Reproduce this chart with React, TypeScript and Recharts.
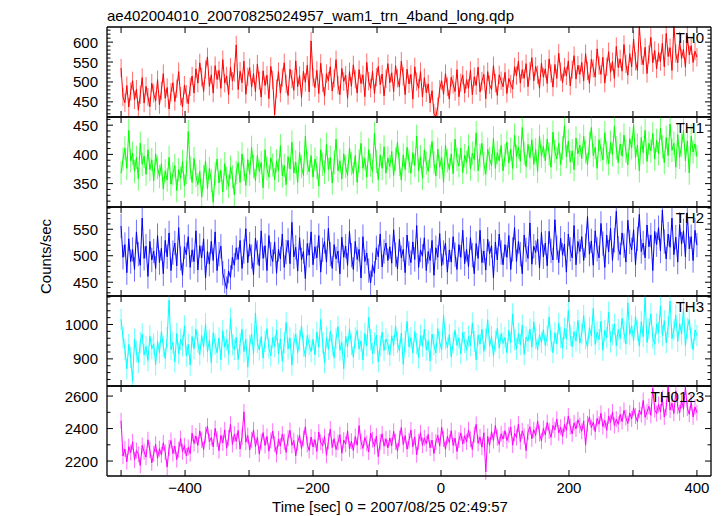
import { LineChart, Line, XAxis, YAxis, ErrorBar } from 'recharts'

const FONT = '"Liberation Sans", Arial, Helvetica, sans-serif'

const TITLE = 'ae402004010_20070825024957_wam1_trn_4band_long.qdp'
const X_LABEL = 'Time [sec] 0 = 2007/08/25 02:49:57'
const Y_LABEL = 'Counts/sec'

// light curve bins: 3 s from -500 s, one row = 60 s
const T_START = -500
const T_BIN = 3

const th0 = [
  535, 462, 448, 491, 437, 476, 503, 455, 482, 429, 468, 511, 447, 489, 462, 438, 497, 471, 452, 506,
  443, 478, 521, 459, 486, 432, 474, 498, 451, 483, 526, 464, 437, 492, 469, 445, 488, 515, 472, 533,
  497, 548, 512, 476, 531, 563, 489, 518, 472, 541, 506, 529, 484, 556, 497, 515, 468, 537, 502, 524,
  593, 481, 527, 498, 552, 469, 513, 536, 487, 521, 476, 545, 503, 462, 528, 491, 517, 458, 539, 505,
  418, 483, 526, 472, 511, 548, 495, 466, 532, 507, 479, 553, 488, 516, 461, 527, 499, 542, 475, 603,
  512, 486, 529, 471, 547, 498, 464, 521, 503, 538, 477, 509, 556, 492, 468, 534, 501, 517, 459, 526,
  489, 543, 507, 472, 531, 496, 518, 463, 549, 502, 484, 527, 471, 512, 539, 493, 520, 465, 508, 546,
  498, 523, 476, 541, 509, 487, 552, 514, 468, 532, 495, 519, 457, 538, 501, 484, 526, 462, 511, 473,
  495, 447, 478, 421, 413, 438, 482, 503, 469, 521, 488, 457, 512, 494, 476, 531, 463, 498, 517, 472,
  506, 484, 529, 468, 513, 491, 537, 475, 502, 519, 458, 526, 493, 481, 541, 497, 466, 518, 503, 488,
  524, 471, 509, 495, 482, 538, 516, 552, 497, 531, 509, 546, 488, 527, 561, 503, 539, 518, 484, 547,
  512, 533, 496, 558, 521, 487, 544, 509, 572, 526, 498, 537, 515, 553, 490, 531, 566, 507, 542, 519,
  549, 503, 571, 528, 496, 557, 534, 512, 583, 541, 519, 562, 497, 538, 576, 524, 551, 509, 589, 536,
  558, 527, 594, 545, 517, 571, 538, 608, 552, 529, 641, 566, 543, 587, 521, 569, 612, 548, 579, 533,
  574, 551, 597, 538, 622, 564, 586, 529, 643, 571, 548, 603, 559, 582, 537, 616, 568, 591, 549, 577,
  562,
]

const th1 = [
  368, 392, 411, 376, 441, 389, 402, 371, 395, 358, 419, 383, 397, 366, 408, 374, 391, 355, 401, 378,
  362, 384, 341, 372, 356, 395, 349, 367, 381, 338, 374, 359, 388, 346, 369, 439, 377, 352, 393, 364,
  348, 371, 327, 362, 389, 341, 376, 355, 318, 367, 392, 351, 373, 336, 384, 359, 345, 378, 362, 331,
  369, 386, 352, 401, 374, 347, 391, 366, 412, 379, 355, 398, 371, 386, 343, 408, 376, 361, 394, 382,
  357, 389, 372, 415, 363, 381, 348, 396, 375, 421, 368, 387, 352, 403, 379, 364, 431, 385, 370, 398,
  361, 392, 377, 346, 408, 383, 369, 417, 374, 395, 351, 386, 426, 372, 389, 358, 401, 379, 364, 411,
  384, 367, 398, 352, 389, 419, 376, 393, 361, 408, 382, 371, 436, 388, 357, 399, 376, 413, 368, 394,
  379, 405, 364, 392, 421, 383, 356, 399, 374, 412, 388, 368, 403, 381, 431, 372, 396, 359, 408, 385,
  371, 397, 422, 386, 363, 409, 378, 395, 352, 416, 389, 374, 401, 367, 426, 391, 380, 411, 369, 398,
  386, 414, 375, 402, 391, 437, 372, 398, 419, 384, 366, 409, 393, 381, 428, 376, 403, 389, 415, 372,
  398, 421, 385, 409, 376, 433, 396, 412, 388, 446, 402, 379, 417, 394, 425, 383, 408, 371, 431, 397,
  414, 389, 426, 401, 378, 438, 405, 392, 419, 383, 411, 449, 396, 423, 387, 406, 374, 428, 401, 416,
  393, 431, 404, 382, 419, 446, 398, 412, 376, 425, 408, 391, 437, 403, 384, 421, 399, 448, 411, 386,
  418, 397, 433, 405, 382, 427, 411, 451, 394, 416, 372, 429, 403, 441, 388, 419, 406, 436, 392, 424,
  401, 445, 413, 386, 429, 398, 452, 407, 419, 378, 434, 395, 416, 441, 389, 423, 368, 431, 404, 418,
  396,
]

const th2 = [
  556, 497, 521, 468, 532, 489, 512, 474, 545, 503, 482, 571, 495, 518, 461, 527, 492, 509, 476, 538,
  487, 514, 466, 529, 498, 543, 472, 506, 524, 481, 553, 495, 463, 517, 502, 536, 478, 511, 489, 547,
  473, 519, 496, 532, 458, 508, 484, 527, 491, 545, 472, 503, 518, 467, 452, 438, 471, 459, 497, 482,
  515, 493, 529, 476, 508, 551, 487, 522, 498, 464, 533, 506, 481, 547, 495, 519, 472, 538, 503, 489,
  526, 467, 512, 494, 541, 478, 507, 529, 485, 563, 498, 516, 471, 534, 492, 508, 457, 523, 501, 545,
  483, 517, 496, 538, 469, 511, 527, 488, 552, 503, 476, 521, 494, 509, 466, 535, 497, 518, 482, 546,
  501, 474, 527, 493, 512, 458, 536, 489, 505, 472, 449, 483, 467, 515, 498, 541, 479, 508, 524, 491,
  517, 486, 549, 502, 475, 531, 496, 512, 468, 539, 504, 487, 526, 493, 557, 478, 511, 499, 534, 472,
  508, 491, 529, 463, 515, 497, 542, 481, 506, 524, 469, 511, 488, 536, 502, 474, 521, 497, 548, 485,
  512, 479, 534, 501, 466, 523, 495, 548, 487, 509, 473, 531, 504, 519, 458, 526, 492, 541, 506, 483,
  521, 497, 538, 474, 512, 553, 489, 527, 503, 466, 539, 511, 495, 562, 484, 518, 506, 531, 477, 544,
  498, 524, 481, 546, 509, 492, 568, 515, 487, 533, 501, 522, 469, 541, 512, 496, 557, 483, 527, 508,
  536, 491, 519, 574, 503, 528, 482, 547, 512, 496, 561, 523, 478, 539, 507, 552, 491, 529, 584, 514,
  502, 543, 519, 488, 567, 526, 511, 549, 483, 532, 578, 508, 524, 496, 558, 517, 539, 472, 546, 521,
  553, 509, 586, 527, 494, 541, 516, 571, 502, 535, 488, 559, 522, 547, 498, 581, 513, 536, 491, 548,
  520,
]

const th3 = [
  1015, 962, 928, 871, 942, 904, 836, 957, 921, 889, 948, 973, 912, 936, 895, 967, 929, 944, 883, 951,
  918, 979, 936, 901, 962, 1071, 927, 948, 891, 974, 915, 957, 938, 996, 908, 943, 882, 965, 929, 987,
  947, 912, 968, 935, 1002, 921, 954, 889, 976, 943, 918, 961, 897, 982, 934, 956, 913, 1018, 941, 927,
  963, 898, 945, 986, 921, 957, 876, 939, 973, 914, 1034, 948, 926, 965, 902, 951, 988, 931, 909, 962,
  936, 984, 915, 958, 893, 947, 1006, 929, 961, 882, 944, 972, 918, 953, 996, 937, 906, 968, 941, 921,
  957, 912, 978, 934, 1015, 946, 889, 963, 927, 981, 940, 903, 959, 994, 925, 948, 871, 966, 935, 987,
  942, 905, 961, 983, 928, 952, 897, 974, 938, 1021, 955, 916, 946, 969, 891, 937, 978, 924, 958, 943,
  911, 967, 939, 996, 948, 923, 975, 884, 951, 1009, 935, 962, 917, 979, 944, 903, 968, 937, 986, 926,
  953, 894, 972, 941, 917, 988, 949, 926, 1027, 958, 932, 971, 906, 946, 983, 939, 961, 915, 977, 948,
  925, 966, 938, 1004, 951, 897, 969, 943, 986, 922, 958, 1014, 937, 965, 908, 952, 989, 931, 973, 945,
  962, 918, 983, 947, 1031, 956, 929, 974, 941, 998, 913, 964, 951, 987, 934, 1008, 959, 926, 971, 948,
  985, 939, 967, 1022, 953, 918, 976, 944, 1003, 962, 931, 989, 957, 1041, 968, 935, 979, 952, 1012, 946,
  973, 1026, 958, 934, 991, 967, 1047, 942, 978, 956, 1009, 925, 983, 962, 1036, 949, 971, 1001, 938, 985,
  959, 1018, 977, 943, 1063, 971, 996, 952, 1024, 983, 937, 1008, 965, 1079, 948, 987, 1031, 961, 942, 1002,
  976, 1054, 968, 1011, 947, 993, 1068, 959, 984, 1027, 951, 1003, 972, 1046, 938, 989, 1015, 961, 927, 984,
  968,
]

const th0123 = [
  2448, 2231, 2274, 2196, 2289, 2252, 2318, 2207, 2265, 2241, 2173, 2296, 2258, 2224, 2331, 2268, 2189, 2245, 2303, 2217,
  2276, 2238, 2312, 2254, 2163, 2281, 2327, 2246, 2292, 2209, 2269, 2338, 2257, 2295, 2231, 2284, 2246, 2372, 2308, 2354,
  2297, 2386, 2329, 2271, 2362, 2415, 2318, 2345, 2287, 2401, 2336, 2264, 2358, 2311, 2392, 2279, 2343, 2427, 2302, 2366,
  2321, 2388, 2274, 2349, 2503, 2316, 2357, 2268, 2331, 2392, 2289, 2346, 2243, 2318, 2375, 2296, 2352, 2261, 2327, 2384,
  2305, 2241, 2336, 2292, 2367, 2318, 2253, 2341, 2389, 2297, 2326, 2232, 2314, 2358, 2276, 2339, 2411, 2302, 2265, 2348,
  2287, 2332, 2259, 2378, 2316, 2294, 2351, 2236, 2322, 2397, 2283, 2338, 2271, 2314, 2362, 2248, 2329, 2304, 2386, 2275,
  2323, 2264, 2351, 2297, 2418, 2319, 2278, 2345, 2308, 2256, 2372, 2331, 2289, 2354, 2227, 2316, 2368, 2292, 2337, 2281,
  2342, 2295, 2383, 2318, 2261, 2339, 2407, 2302, 2357, 2273, 2326, 2391, 2288, 2349, 2239, 2318, 2374, 2297, 2343, 2306,
  2364, 2281, 2329, 2246, 2317, 2358, 2292, 2408, 2335, 2273, 2352, 2314, 2387, 2296, 2341, 2259, 2328, 2373, 2305, 2356,
  2318, 2392, 2334, 2271, 2363, 2426, 2309, 2348, 2286, 2374, 2133, 2352, 2297, 2381, 2326, 2419, 2343, 2302, 2368, 2335,
  2387, 2326, 2362, 2409, 2298, 2371, 2345, 2428, 2319, 2386, 2352, 2264, 2378, 2411, 2337, 2393, 2358, 2447, 2369, 2324,
  2401, 2362, 2437, 2385, 2346, 2419, 2392, 2458, 2373, 2408, 2351, 2426, 2389, 2478, 2412, 2367, 2435, 2398, 2454, 2419,
  2383, 2447, 2298, 2429, 2472, 2406, 2439, 2381, 2463, 2427, 2494, 2412, 2451, 2388, 2476, 2437, 2502, 2419, 2458, 2426,
  2487, 2443, 2512, 2468, 2431, 2496, 2459, 2528, 2477, 2442, 2514, 2486, 2573, 2469, 2503, 2537, 2481, 2649, 2516, 2492,
  2548, 2503, 2587, 2471, 2529, 2662, 2514, 2556, 2493, 2631, 2538, 2497, 2573, 2519, 2655, 2526, 2488, 2561, 2472, 2533,
  2498,
]

// typical 1-sigma error of one bin, per band
const ERR = [23, 20, 23, 31, 49]

const X_TICKS = [-500, -400, -300, -200, -100, 0, 100, 200, 300, 400]
const X_LABELS = [-400, -200, 0, 200, 400]

const panels = [
  { name: 'TH0', values: th0, err: ERR[0], color: '#ff0000', light: '#ff6e6e', domain: [412, 638], labels: [450, 500, 550, 600], minor: 10, top: 27, h: 90 },
  { name: 'TH1', values: th1, err: ERR[1], color: '#00ff00', light: '#6eff6e', domain: [310, 464], labels: [350, 400, 450], minor: 10, top: 117, h: 90 },
  { name: 'TH2', values: th2, err: ERR[2], color: '#0000ff', light: '#6e6eff', domain: [424, 592], labels: [450, 500, 550], minor: 10, top: 207, h: 89 },
  { name: 'TH3', values: th3, err: ERR[3], color: '#00ffff', light: '#6effff', domain: [821, 1083], labels: [900, 1000], minor: 20, top: 296, h: 90 },
  { name: 'TH0123', values: th0123, err: ERR[4], color: '#ff00ff', light: '#ff6eff', domain: [2108, 2662], labels: [2200, 2400, 2600], minor: 100, top: 386, h: 90 },
]

const times = th0.map((_, i) => T_START + i * T_BIN)

const fmt = (v: number) => (v < 0 ? '\u2212' + Math.abs(v) : String(v))

function minorTicks(domain: number[], step: number) {
  const out: number[] = []
  for (let v = Math.ceil(domain[0] / step) * step; v <= domain[1]; v += step) out.push(v)
  return out
}

const yTick = (labels: number[], side: string) => (props: any) => {
  const { x, y, payload } = props
  const major = labels.includes(payload.value)
  const len = major ? 6 : 3.5
  const dx = side === 'left' ? len : -len
  return (
    <g>
      <line x1={x} y1={y} x2={x + dx} y2={y} stroke="#000" strokeWidth={1} />
      {side === 'left' && major && (
        <text x={x - 9} y={y + 5.5} textAnchor="end" fontSize={15} fontFamily={FONT} fill="#000">
          {payload.value}
        </text>
      )}
    </g>
  )
}

const xTick = (side: string, showLabels: boolean) => (props: any) => {
  const { x, y, payload } = props
  const dy = side === 'top' ? 6 : -6
  return (
    <g>
      <line x1={x} y1={y} x2={x} y2={y + dy} stroke="#000" strokeWidth={1} />
      {showLabels && X_LABELS.includes(payload.value) && (
        <text x={x} y={y + 17} textAnchor="middle" fontSize={15} fontFamily={FONT} fill="#000">
          {fmt(payload.value)}
        </text>
      )}
    </g>
  )
}

function Panel({ p, last }: { p: any; last: boolean }) {
  const data = times.map((t, i) => ({ t, v: p.values[i], e: p.err }))
  const bottomH = last ? 30 : 1
  const yticks = minorTicks(p.domain, p.minor)
  const axisLine = { stroke: '#000', strokeWidth: 1.3 }
  return (
    <div style={{ position: 'absolute', left: 0, top: p.top - 1 }}>
      <LineChart width={724} height={p.h + 1 + bottomH} data={data} margin={{ top: 0, right: 12, bottom: 0, left: 47 }}>
        <XAxis xAxisId="b" dataKey="t" type="number" domain={[-522, 422]} allowDataOverflow ticks={X_TICKS}
          interval={0} height={bottomH} tickSize={0} tickMargin={0} tickLine={false} axisLine={axisLine}
          tick={xTick('bottom', last)} />
        <XAxis xAxisId="t" orientation="top" dataKey="t" type="number" domain={[-522, 422]} allowDataOverflow
          ticks={X_TICKS} interval={0} height={1} tickSize={0} tickMargin={0} tickLine={false} axisLine={axisLine}
          tick={xTick('top', false)} />
        <YAxis yAxisId="l" type="number" domain={p.domain} allowDataOverflow ticks={yticks} interval={0} width={60}
          tickSize={0} tickMargin={0} tickLine={false} axisLine={axisLine} tick={yTick(p.labels, 'left')} />
        <YAxis yAxisId="r" orientation="right" type="number" domain={p.domain} allowDataOverflow ticks={yticks}
          interval={0} width={1} tickSize={0} tickMargin={0} tickLine={false} axisLine={axisLine}
          tick={yTick(p.labels, 'right')} />
        <Line xAxisId="t" yAxisId="r" dataKey="v" type="linear" stroke="none" strokeWidth={0}
          dot={false} isAnimationActive={false}>
          <ErrorBar dataKey="e" width={0} stroke={p.light} strokeWidth={1} direction="y" />
        </Line>
        <Line xAxisId="b" yAxisId="l" dataKey="v" type="linear" stroke={p.color} strokeWidth={1}
          dot={false} isAnimationActive={false} />
      </LineChart>
    </div>
  )
}

export default function App() {
  return (
    <div style={{ position: 'fixed', left: 0, top: 0, width: 724, height: 516, background: '#fff', fontFamily: FONT }}>
      {panels.map((p, i) => (
        <Panel key={p.name} p={p} last={i === panels.length - 1} />
      ))}
      <svg width={724} height={516} style={{ position: 'absolute', left: 0, top: 0, pointerEvents: 'none' }}>
        <text x={107} y={20.5} fontSize={15} fontFamily={FONT} fill="#000">{TITLE}</text>
        {panels.map((p) => (
          <text key={p.name} x={704} y={p.top + 16} textAnchor="end" fontSize={15} fontFamily={FONT} fill="#000">
            {p.name}
          </text>
        ))}
        <text x={51} y={256.5} transform="rotate(-90 51 256.5)" textAnchor="middle" fontSize={15} fontFamily={FONT} fill="#000">
          {Y_LABEL}
        </text>
        <text x={390} y={512} textAnchor="middle" fontSize={15} fontFamily={FONT} fill="#000">{X_LABEL}</text>
      </svg>
    </div>
  )
}
